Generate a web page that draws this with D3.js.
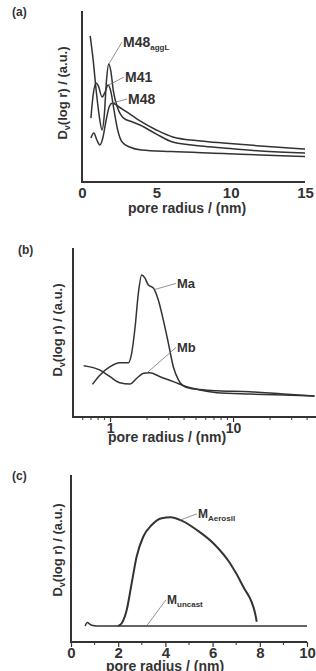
<!DOCTYPE html>
<html>
<head>
<meta charset="utf-8">
<script src="https://cdn.jsdelivr.net/npm/d3@7"></script>
<style>
  body { margin: 0; background: #fff; }
  text { font-family: "Liberation Sans", Arial, sans-serif; fill: #333; }
</style>
</head>
<body>
<div id="chart"></div>
<script>
/* Data: pore radius (nm) and Dv(log r) in arbitrary units (0-100) */
// panel (a)
const m48aggL = [[0.55,85.9],[0.75,71.8],[0.95,54.1],[1.15,39.4],[1.35,30.6],[1.5,39.4],[1.65,60],[1.8,69.4],[1.95,64.7],[2.1,54.1],[2.4,43.5],[2.8,37.6],[3.4,35.3],[3.9,33.5],[5,28.2],[6.1,23.5],[8,21.2],[9.5,20],[12,18.2],[15,17.1]];
const m41 = [[0.6,37.6],[0.75,51.2],[0.95,58.2],[1.1,56.5],[1.35,50],[1.55,52.9],[1.75,57.1],[1.95,52.9],[2.15,42.4],[2.4,30.6],[2.7,23.5],[3.2,20.6],[4,18.8],[6,17.9],[9.5,16.8],[12,15.9],[15,15]];
const m48 = [[0.6,25.9],[0.8,28.8],[1.0,24.7],[1.2,21.8],[1.4,25.9],[1.6,35.3],[1.85,44.7],[2.05,46.5],[2.4,44.7],[3.0,41.2],[3.9,35.9],[5,30.6],[6.1,26.5],[8,24.1],[9.5,22.9],[12,21.2],[15,19.4]];
const ticksA = [0, 5, 10, 15];

// panel (b)
const ma = [[0.72,19.2],[0.83,24.7],[1.0,29.6],[1.2,31.9],[1.41,31.9],[1.5,37.6],[1.6,53.1],[1.7,72.9],[1.81,83.5],[1.92,81.8],[2.05,77.6],[2.25,75.9],[2.47,68.8],[2.71,57.1],[2.98,43.5],[3.27,29.6],[3.6,21.8],[4.06,17.8],[5.06,16.3],[7.4,15.5],[13.7,14.9],[25.7,13.5],[46,12.4]];
const mb = [[0.61,30.2],[0.83,27.6],[1.0,23.7],[1.2,20.2],[1.45,19.4],[1.65,22.8],[1.87,25.7],[2.1,26.1],[2.55,23.7],[3.27,20.8],[4.2,17.8],[5.4,15.9],[7.4,14.3],[13.7,13.5],[25.7,12.9],[46,12.4]];
const ticksB = [1, 10];

// panel (c)
const mAerosil = [[2.0,9.4],[2.15,11],[2.36,18.8],[2.57,34.5],[2.78,50.2],[3.06,61.9],[3.42,68.8],[3.84,72.8],[4.22,73.4],[4.69,71.4],[5.33,65.9],[6.03,58.1],[6.74,46.3],[7.3,32.5],[7.8,16.9],[7.87,11.9]];
const mUncast = [[0.6,9.4],[0.69,11.4],[0.85,10],[1.1,9.4],[3,9.4],[6,9.4],[10,9.4]];
const ticksC = [0, 2, 4, 6, 8, 10];

const W = 316, H = 671;
const ink = "#333";

const svg = d3.select("#chart").append("svg")
  .attr("width", W)
  .attr("height", H);

function yTitle(g, cx, cy) {
  const t = g.append("text")
    .attr("transform", `translate(${cx},${cy}) rotate(-90)`)
    .attr("text-anchor", "middle")
    .attr("font-size", "13px")
    .attr("font-weight", "bold");
  t.append("tspan").text("D");
  t.append("tspan").attr("font-size", "9px").attr("dy", 3).text("v");
  t.append("tspan").attr("dy", -3).text("(log r) / (a.u.)");
}

function panelTag(g, x, y, s) {
  g.append("text")
    .attr("x", x).attr("y", y)
    .attr("font-family", "'Liberation Serif', 'Times New Roman', serif")
    .attr("font-weight", "bold")
    .attr("font-size", "12px")
    .text(s);
}

function drawCurve(g, data, x, y, w) {
  g.append("path")
    .datum(data)
    .attr("fill", "none")
    .attr("stroke", ink)
    .attr("stroke-width", w || 1.5)
    .attr("d", d3.line().x(d => x(d[0])).y(d => y(d[1])).curve(d3.curveMonotoneX));
}

function label(g, pt, tx, ty, main, sub, x, y, fs, subFs) {
  g.append("line")
    .attr("x1", x(pt[0])).attr("y1", y(pt[1]))
    .attr("x2", tx - 1).attr("y2", ty - fs * 0.35)
    .attr("stroke", "#777").attr("stroke-width", 0.8);
  const t = g.append("text")
    .attr("x", tx).attr("y", ty)
    .attr("font-size", fs + "px")
    .attr("font-weight", "bold")
    .text(main);
  if (sub) t.append("tspan").attr("font-size", subFs + "px").attr("dy", 3).text(sub);
}

function axisLines(g, x0, x1, y0, y1) {
  g.append("line").attr("x1", x0).attr("x2", x0).attr("y1", y1).attr("y2", y0)
    .attr("stroke", ink).attr("stroke-width", 2);
  g.append("line").attr("x1", x0 - 1).attr("x2", x1).attr("y1", y0).attr("y2", y0)
    .attr("stroke", ink).attr("stroke-width", 2);
}

function xTitle(g, cx, cy) {
  g.append("text")
    .attr("x", cx).attr("y", cy)
    .attr("text-anchor", "middle")
    .attr("font-size", "14px")
    .attr("font-weight", "bold")
    .text("pore radius / (nm)");
}

/* Panel (a) */
{
  const g = svg.append("g");
  const x = d3.scaleLinear().domain([0, 15]).range([82, 305]);
  const y = d3.scaleLinear().domain([0, 100]).range([182, 12]);
  axisLines(g, 82, 305, 182, 11);
  g.append("g")
    .attr("transform", "translate(0,182)")
    .call(d3.axisBottom(x).tickValues(ticksA).tickSize(0).tickPadding(5).tickFormat(d3.format("d")))
    .call(a => a.select(".domain").remove())
    .call(a => a.selectAll("text").attr("font-size", "15px").attr("font-weight", "bold")
      .attr("font-family", "'Liberation Sans', Arial, sans-serif").attr("fill", ink));
  [m48aggL, m41, m48].forEach(s => drawCurve(g, s, x, y));
  label(g, [1.8, 69.4], 123, 47, "M48", "aggL", x, y, 14, 8);
  label(g, [1.78, 57], 125, 82, "M41", null, x, y, 14);
  label(g, [2.05, 46.5], 128, 104, "M48", null, x, y, 14);
  xTitle(g, 187, 213);
  yTitle(g, 67, 93);
  panelTag(g, 12, 16, "(a)");
}

/* Panel (b) */
{
  const g = svg.append("g");
  const x = d3.scaleLog().domain([0.5, 50]).range([73, 319]);
  const y = d3.scaleLinear().domain([0, 100]).range([417, 247]);
  axisLines(g, 73, 319, 417, 248);
  const minor = [0.6,0.7,0.8,0.9,2,3,4,5,6,7,8,9,20,30,40];
  g.selectAll(".minor").data(minor).enter().append("line")
    .attr("class", "minor")
    .attr("x1", d => x(d)).attr("x2", d => x(d))
    .attr("y1", 417).attr("y2", 420)
    .attr("stroke", ink).attr("stroke-width", 1);
  g.append("g")
    .attr("transform", "translate(0,417)")
    .call(d3.axisBottom(x).tickValues(ticksB).tickSize(5).tickPadding(1).tickFormat(d3.format("d")))
    .call(a => a.select(".domain").remove())
    .call(a => a.selectAll("line").attr("stroke", ink).attr("stroke-width", 1.2))
    .call(a => a.selectAll("text").attr("font-size", "14px").attr("font-weight", "bold")
      .attr("font-family", "'Liberation Sans', Arial, sans-serif").attr("fill", ink));
  [ma, mb].forEach(s => drawCurve(g, s, x, y));
  label(g, [2.3, 75], 177, 288, "Ma", null, x, y, 13);
  label(g, [2.0, 26], 177, 352, "Mb", null, x, y, 13);
  xTitle(g, 167, 442);
  yTitle(g, 62, 330);
  panelTag(g, 18, 254, "(b)");
}

/* Panel (c) */
{
  const g = svg.append("g");
  const x = d3.scaleLinear().domain([0, 10]).range([71, 307]);
  const y = d3.scaleLinear().domain([0, 100]).range([642, 472]);
  axisLines(g, 71, 307, 642, 475);
  g.selectAll(".minor").data([1,3,5,7,9]).enter().append("line")
    .attr("class", "minor")
    .attr("x1", d => x(d)).attr("x2", d => x(d))
    .attr("y1", 642).attr("y2", 645)
    .attr("stroke", ink).attr("stroke-width", 1);
  g.append("g")
    .attr("transform", "translate(0,642)")
    .call(d3.axisBottom(x).tickValues(ticksC).tickSize(5).tickPadding(0).tickFormat(d3.format("d")))
    .call(a => a.select(".domain").remove())
    .call(a => a.selectAll("line").attr("stroke", ink).attr("stroke-width", 1.2))
    .call(a => a.selectAll("text").attr("font-size", "15px").attr("font-weight", "bold")
      .attr("font-family", "'Liberation Sans', Arial, sans-serif").attr("fill", ink));
  drawCurve(g, mAerosil, x, y, 2);
  drawCurve(g, mUncast, x, y, 1.5);
  label(g, [4.6, 71.6], 198, 518, "M", "Aerosil", x, y, 12, 8);
  label(g, [3.2, 9.4], 167, 604, "M", "uncast", x, y, 12, 8);
  xTitle(g, 165, 671);
  yTitle(g, 62, 550);
  panelTag(g, 12, 480, "(c)");
}
</script>
</body>
</html>
